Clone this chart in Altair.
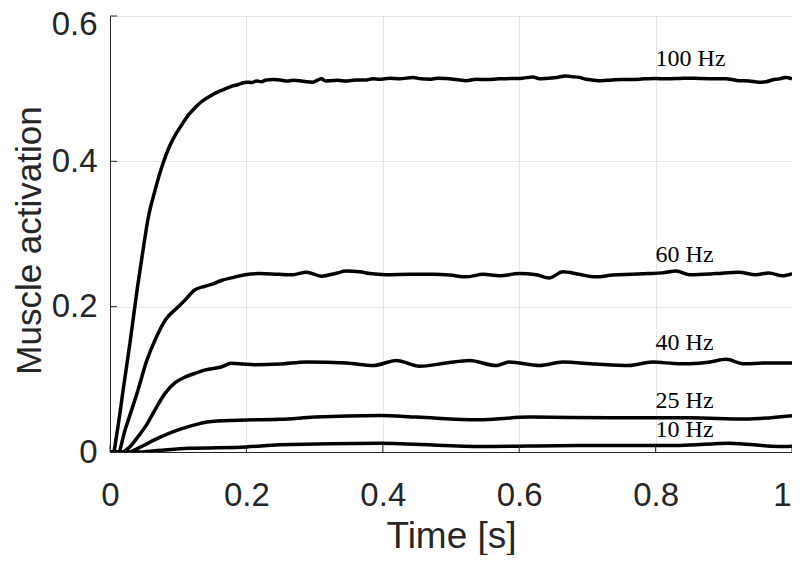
import altair as alt
import pandas as pd

# ---- data ----
t_100 = [0, 0.005, 0.01, 0.02, 0.03, 0.04, 0.048, 0.056, 0.066, 0.078, 0.087, 0.095, 0.105,
         0.115, 0.125, 0.134, 0.147, 0.159, 0.166, 0.172, 0.179, 0.186, 0.193, 0.2, 0.208,
         0.215, 0.222, 0.229, 0.24, 0.249, 0.26, 0.268, 0.278, 0.288, 0.298, 0.304, 0.31,
         0.316, 0.322, 0.334, 0.346, 0.36, 0.376, 0.385, 0.395, 0.41, 0.425, 0.444, 0.456,
         0.469, 0.48, 0.493, 0.508, 0.522, 0.537, 0.552, 0.57, 0.59, 0.605, 0.62, 0.63,
         0.639, 0.655, 0.668, 0.678, 0.688, 0.698, 0.707, 0.72, 0.737, 0.75, 0.766, 0.783,
         0.8, 0.815, 0.835, 0.85, 0.864, 0.885, 0.903, 0.912, 0.922, 0.937, 0.952, 0.962,
         0.971, 0.981, 0.991, 1.0]
a_100 = [0, 0, 0.025, 0.09, 0.155, 0.225, 0.275, 0.322, 0.36, 0.398, 0.42, 0.435, 0.45,
         0.464, 0.474, 0.482, 0.49, 0.496, 0.4985, 0.501, 0.5035, 0.505, 0.5075, 0.509, 0.5085,
         0.5105, 0.5095, 0.512, 0.5125, 0.512, 0.5105, 0.5115, 0.511, 0.5095, 0.509, 0.5115, 0.5135,
         0.5105, 0.511, 0.5115, 0.5105, 0.512, 0.512, 0.5135, 0.513, 0.5145, 0.5135, 0.5155, 0.5135,
         0.513, 0.5145, 0.514, 0.5125, 0.511, 0.513, 0.5125, 0.5135, 0.514, 0.5145, 0.516, 0.5135,
         0.514, 0.5155, 0.5175, 0.5165, 0.5155, 0.513, 0.512, 0.511, 0.512, 0.5125, 0.5125, 0.5135,
         0.514, 0.5135, 0.514, 0.5145, 0.514, 0.5135, 0.5135, 0.5125, 0.511, 0.5105, 0.509, 0.5095,
         0.512, 0.5135, 0.5155, 0.5135]

t_60 = [0, 0.012, 0.022, 0.041, 0.054, 0.066, 0.083, 0.097, 0.11, 0.124, 0.139, 0.15, 0.163,
        0.18, 0.198, 0.218, 0.237, 0.249, 0.268, 0.288, 0.31, 0.332, 0.346, 0.366, 0.381,
        0.405, 0.44, 0.474, 0.498, 0.522, 0.547, 0.571, 0.6, 0.625, 0.644, 0.664, 0.688,
        0.712, 0.737, 0.766, 0.79, 0.81, 0.83, 0.85, 0.888, 0.922, 0.947, 0.966, 0.986, 1.0]
a_60 = [0, 0, 0.03, 0.085, 0.126, 0.154, 0.184, 0.197, 0.209, 0.223, 0.228, 0.231, 0.236,
        0.24, 0.244, 0.2455, 0.245, 0.2445, 0.244, 0.2475, 0.242, 0.246, 0.249, 0.248, 0.2455,
        0.244, 0.2445, 0.2445, 0.2435, 0.241, 0.2445, 0.2425, 0.2455, 0.244, 0.2395, 0.248, 0.2445,
        0.241, 0.2435, 0.2445, 0.2455, 0.2465, 0.249, 0.244, 0.2455, 0.2475, 0.244, 0.2465, 0.2425, 0.2455]

t_40 = [0, 0.017, 0.03, 0.041, 0.054, 0.066, 0.081, 0.095, 0.11, 0.124, 0.14, 0.163, 0.178,
        0.195, 0.212, 0.249, 0.288, 0.347, 0.386, 0.42, 0.454, 0.493, 0.527, 0.566, 0.585,
        0.63, 0.664, 0.712, 0.761, 0.795, 0.835, 0.85, 0.88, 0.903, 0.93, 0.96, 1.0]
a_40 = [0, 0, 0.008, 0.021, 0.038, 0.058, 0.081, 0.095, 0.103, 0.108, 0.113, 0.117, 0.122,
        0.121, 0.12, 0.121, 0.124, 0.1225, 0.119, 0.126, 0.118, 0.1225, 0.126, 0.119, 0.1238,
        0.119, 0.1238, 0.121, 0.119, 0.1238, 0.1215, 0.1215, 0.1238, 0.1275, 0.1215, 0.1224, 0.1224]

t_25 = [0, 0.027, 0.045, 0.066, 0.09, 0.115, 0.149, 0.2, 0.249, 0.3, 0.395, 0.45, 0.54,
        0.615, 0.737, 0.85, 0.932, 1.0]
a_25 = [0, 0, 0.007, 0.017, 0.027, 0.035, 0.042, 0.044, 0.045, 0.048, 0.0503, 0.048, 0.0443,
        0.048, 0.047, 0.047, 0.0455, 0.05]

t_10 = [0, 0.04, 0.07, 0.115, 0.2, 0.249, 0.395, 0.54, 0.686, 0.835, 0.908, 0.981, 1.0]
a_10 = [0, 0, 0.002, 0.005, 0.007, 0.0099, 0.0122, 0.0076, 0.009, 0.009, 0.0122, 0.0076, 0.008]

series_names = ["100 Hz", "60 Hz", "40 Hz", "25 Hz", "10 Hz"]
label_x = [0.8, 0.8, 0.8, 0.8, 0.8]
label_y = [0.531, 0.261, 0.141, 0.061, 0.020]

x_ticks = [0, 0.2, 0.4, 0.6, 0.8, 1]
y_ticks = [0, 0.2, 0.4, 0.6]

rows = []
for name, ts, as_ in zip(series_names,
                         [t_100, t_60, t_40, t_25, t_10],
                         [a_100, a_60, a_40, a_25, a_10]):
    for t, a in zip(ts, as_):
        rows.append({"series": name, "t": t, "a": a})
df = pd.DataFrame(rows)
labels = pd.DataFrame({"label": series_names, "x": label_x, "y": label_y})
xt = pd.DataFrame({"v": x_ticks})
yt = pd.DataFrame({"v": y_ticks})

W, H = 682, 436
AX = "#262626"
SANS = "Liberation Sans"

xscale = alt.Scale(domain=[0, 1], nice=False, zero=False)
yscale = alt.Scale(domain=[0, 0.6], nice=False, zero=False)

xaxis = alt.Axis(values=x_ticks, format="~g", title="Time [s]", grid=True,
                 gridColor="#e6e6e6", gridWidth=1, domainColor=AX, domainWidth=1,
                 ticks=False, tickSize=0, labelFont=SANS, labelFontSize=33,
                 labelColor=AX, labelPadding=27, labelFlush=False,
                 labelOffset={"condition": {"test": "datum.value >= 1", "value": -10}, "value": 0},
                 titleFont=SANS, titleFontSize=37, titleFontWeight="normal",
                 titleColor=AX, titleX=341, titleY=95, titleBaseline="alphabetic")
yaxis = alt.Axis(values=y_ticks, format="~g", title="Muscle activation", grid=True,
                 gridColor="#e6e6e6", gridWidth=1, domainColor=AX, domainWidth=1,
                 ticks=False, tickSize=0, labelFont=SANS, labelFontSize=33,
                 labelColor=AX, labelPadding=13, labelFlush=False,
                 labelOffset={"condition": {"test": "datum.value >= 0.6", "value": 8}, "value": 0},
                 titleFont=SANS, titleFontSize=35, titleFontWeight="normal",
                 titleColor=AX, titleX=-70, titleY=224, titleAngle=270,
                 titleBaseline="alphabetic", titleAlign="center")

lines = alt.Chart(df).mark_line(color="black", strokeWidth=3.5, interpolate="monotone",
                                clip=True).encode(
    x=alt.X("t:Q", scale=xscale, axis=xaxis),
    y=alt.Y("a:Q", scale=yscale, axis=yaxis),
    detail="series:N",
)

text = alt.Chart(labels).mark_text(font="Liberation Serif", fontSize=24, align="left",
                                   baseline="alphabetic", color="black").encode(
    x=alt.X("x:Q", scale=xscale),
    y=alt.Y("y:Q", scale=yscale),
    text="label:N",
)

xtick_marks = alt.Chart(xt).mark_rule(color=AX, strokeWidth=1).encode(
    x=alt.X("v:Q", scale=xscale),
    y=alt.value(H),
    y2=alt.value(H - 7),
)
ytick_marks = alt.Chart(yt).mark_rule(color=AX, strokeWidth=1).encode(
    y=alt.Y("v:Q", scale=yscale),
    x=alt.value(0),
    x2=alt.value(7),
)

chart = alt.layer(lines, xtick_marks, ytick_marks, text).properties(
    width=W, height=H,
    autosize=alt.AutoSizeParams(type="none"),
    padding={"left": 102, "top": 8, "right": 0, "bottom": 103},
).configure_view(stroke=None).configure(background="white")

chart.save("out.html", embed_options={"renderer": "svg", "actions": False})
